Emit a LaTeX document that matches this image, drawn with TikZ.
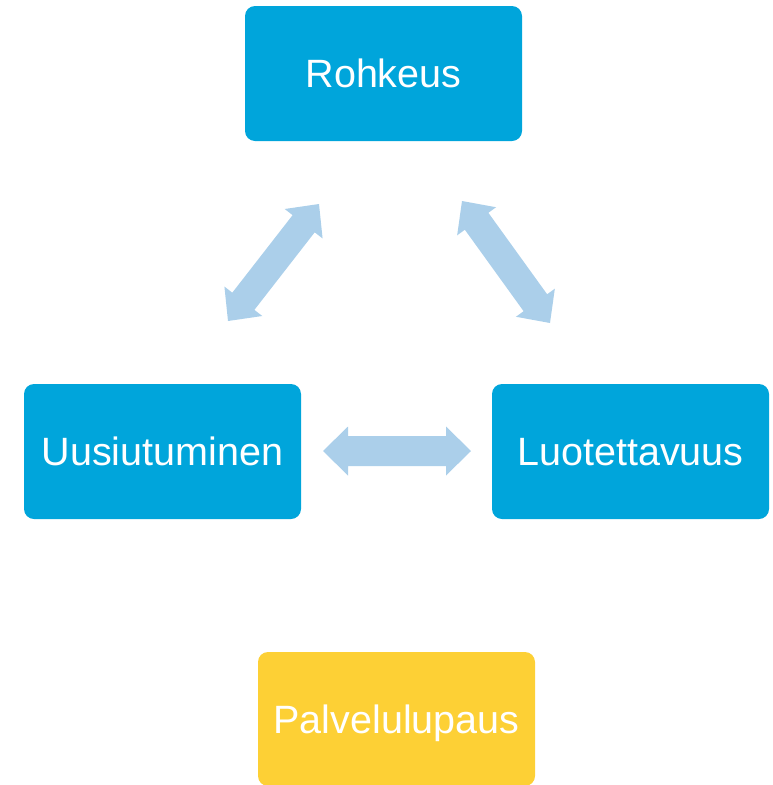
\documentclass[tikz,border=0pt]{standalone}
\usepackage{fontspec}
\setmainfont{Liberation Sans}
\usetikzlibrary{calc}
\definecolor{boxblue}{HTML}{00A5DB}
\definecolor{boxyellow}{HTML}{FDD035}
\definecolor{arrowblue}{HTML}{ABCFEA}
\tikzset{
  valuebox/.style={rectangle, rounded corners=10pt, minimum width=277pt, minimum height=135pt,
    inner sep=0pt, text depth=0pt, text=white, font=\fontsize{39.5pt}{44pt}\selectfont},
  bluebox/.style={valuebox, fill=boxblue},
  yellowbox/.style={valuebox, fill=boxyellow, minimum height=134pt},
  fatarrow/.style={fill=arrowblue, draw=none}
}
% #1,#2 tips, #3 shaft half width, #4 head half width
\newcommand\fatdblarrow[4]{%
  \coordinate (H1) at ($(#1)!25pt!(#2)$);
  \coordinate (H2) at ($(#2)!25pt!(#1)$);
  \fill[fatarrow] (#1) -- ($(H1)!#4!90:(#2)$) -- ($(H1)!#3!90:(#2)$)
    -- ($(H2)!#3!-90:(#1)$) -- ($(H2)!#4!-90:(#1)$) -- (#2)
    -- ($(H2)!#4!90:(#1)$) -- ($(H2)!#3!90:(#1)$)
    -- ($(H1)!#3!-90:(#2)$) -- ($(H1)!#4!-90:(#2)$) -- cycle;}
\begin{document}
\begin{tikzpicture}[x=1pt,y=-1pt]
\useasboundingbox (0,0) rectangle (772,785);
\node[bluebox] (rohkeus) at (383.5,73.5) {Rohkeus};
\node[bluebox] (uusi) at (162.5,451.5) {Uusiutuminen};
\node[bluebox] (luot) at (630.5,451.5) {Luotettavuus};
\node[yellowbox] (palvelu) at (396.5,719) {Palvelulupaus};
\coordinate (la) at (228,321);
\coordinate (lb) at (319,204);
\coordinate (ra) at (462,201);
\coordinate (rb) at (550,323);
\coordinate (ha) at (323,451);
\coordinate (hb) at (471,451);
\fatdblarrow{la}{lb}{14pt}{24pt}
\fatdblarrow{ra}{rb}{14.5pt}{24pt}
\fatdblarrow{ha}{hb}{15pt}{24.5pt}
\end{tikzpicture}
\end{document}
